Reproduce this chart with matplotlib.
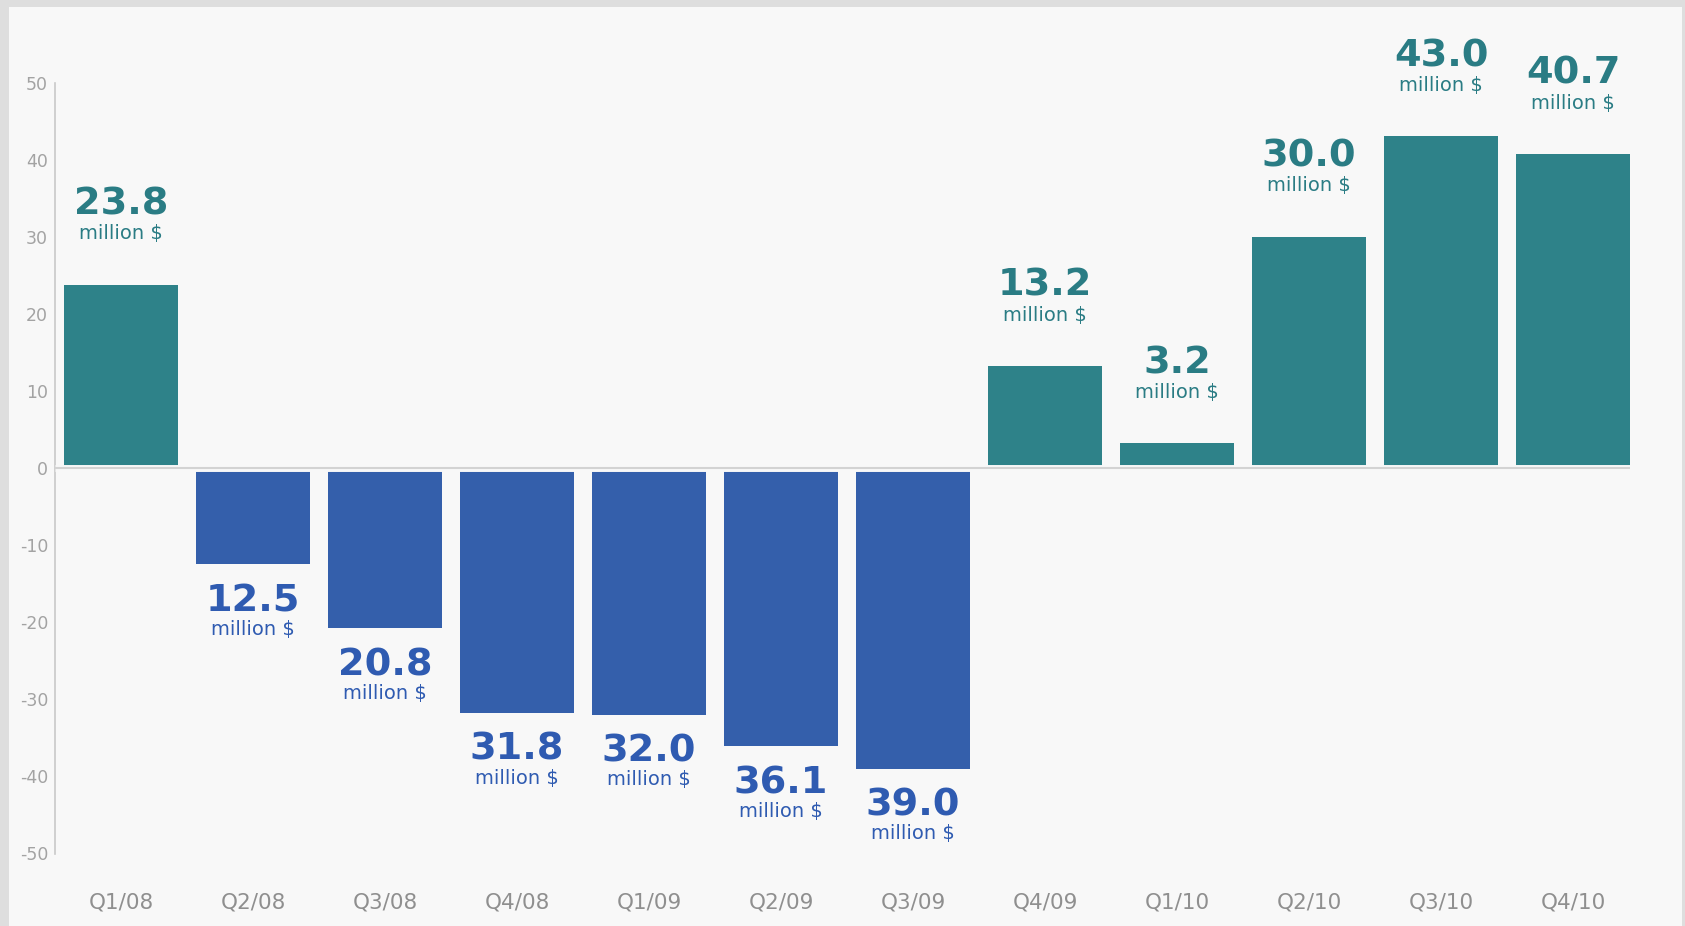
import matplotlib
matplotlib.use("Agg")
import matplotlib.pyplot as plt
from matplotlib.patches import Rectangle

# ---- data ----
quarters = ["Q1/08", "Q2/08", "Q3/08", "Q4/08", "Q1/09", "Q2/09",
            "Q3/09", "Q4/09", "Q1/10", "Q2/10", "Q3/10", "Q4/10"]
values = [23.8, -12.5, -20.8, -31.8, -32.0, -36.1,
          -39.0, 13.2, 3.2, 30.0, 43.0, 40.7]
unit_label = "million $"
yticks = [50, 40, 30, 20, 10, 0, -10, -20, -30, -40, -50]

# ---- style ----
BG_OUT = "#dedede"
BG = "#f8f8f8"
TEAL = "#2e8289"
TEAL_TXT = "#2a7c84"
BLUE = "#345fab"
BLUE_TXT = "#2f5bb1"

W, H, DPI = 1685, 926, 100
fig = plt.figure(figsize=(W / DPI, H / DPI), dpi=DPI, facecolor=BG_OUT)
fig.patches.append(Rectangle((9 / W, 0), (1682 - 9) / W, (H - 7) / H,
                             transform=fig.transFigure, facecolor=BG,
                             edgecolor="none", zorder=-10))

ax = fig.add_axes([55 / W, (H - 853.5) / H, 1584 / W, (853.5 - 82.5) / H])
ax.set_facecolor("none")
ax.set_zorder(5)

x = list(range(len(values)))
width = 0.86
colors = [TEAL if v >= 0 else BLUE for v in values]
ax.bar(x, values, width=width, color=colors, zorder=2)

# zero line with small gap to bars
ax.hlines(0, -0.5, len(values) - 1 + width / 2, color=BG, lw=5, zorder=3)
ax.hlines(0, -0.5, len(values) - 1 + width / 2, color="#d3d3d3", lw=1.5, zorder=4)

for xi, v in zip(x, values):
    txtc = TEAL_TXT if v >= 0 else BLUE_TXT
    if v >= 0:
        off_num, off_unit = 57.8, 36.7
    else:
        off_num, off_unit = -26.5, -47.0
    ax.annotate(f"{abs(v):.1f}", (xi, v), xytext=(0, off_num),
                textcoords="offset points", ha="center", va="center",
                fontsize=27.5, fontweight="bold", color=txtc,
                family="DejaVu Sans", zorder=5, annotation_clip=False)
    ax.annotate(unit_label, (xi, v), xytext=(0, off_unit),
                textcoords="offset points", ha="center", va="center",
                fontsize=14, color=txtc, family="DejaVu Sans", zorder=5,
                annotation_clip=False)

ax.set_xlim(-0.5, len(values) - 0.5)
ax.set_ylim(-50, 50)
ax.set_yticks(yticks)
ax.set_yticklabels([str(t) for t in yticks])
ax.set_xticks(x)
ax.set_xticklabels(quarters)

ax.tick_params(axis="y", length=0, pad=5, labelsize=12.5, labelcolor="#a3a3a3")
ax.tick_params(axis="x", length=0, pad=28, labelsize=15.5, labelcolor="#8f8f8f")

for s in ["top", "right", "bottom"]:
    ax.spines[s].set_visible(False)
ax.spines["left"].set_color("#c9c9c9")
ax.spines["left"].set_linewidth(1.2)

fig.savefig("out.png", dpi=DPI, facecolor=BG_OUT)
